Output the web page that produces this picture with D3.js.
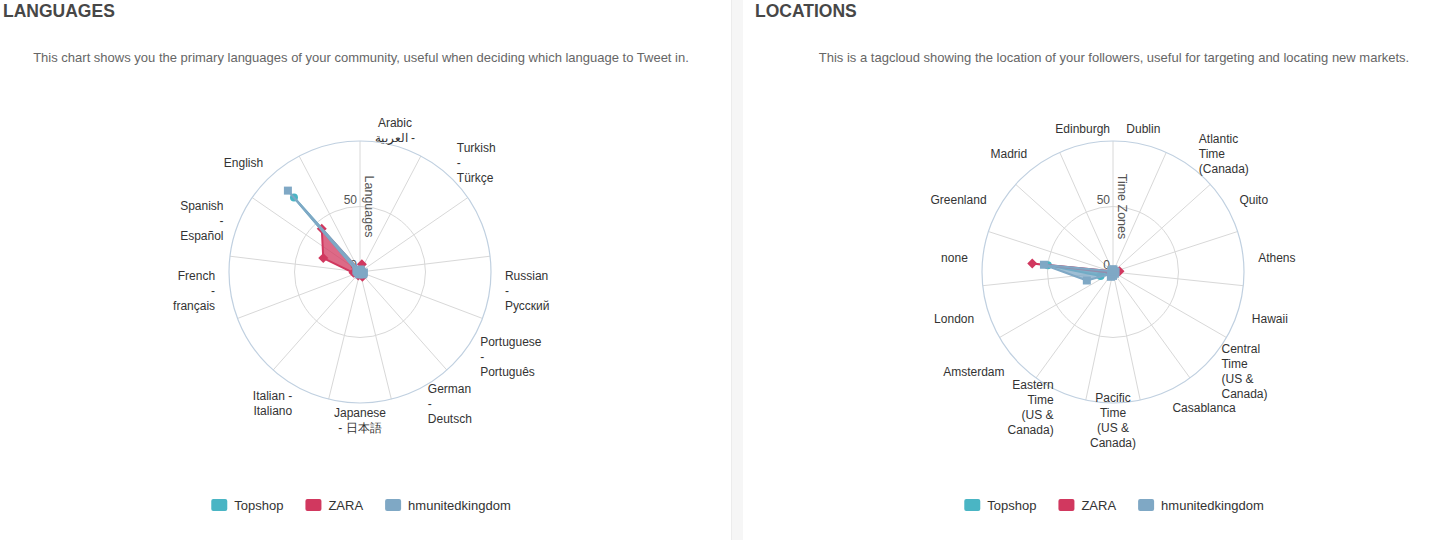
<!DOCTYPE html>
<html>
<head>
<meta charset="utf-8">
<script src="https://cdn.jsdelivr.net/npm/d3@7"></script>
<style>
  html, body { margin: 0; padding: 0; background: #fff; }
  svg { display: block; font-family: "Liberation Sans", Arial, Helvetica, sans-serif; }
</style>
</head>
<body>
<svg id="chart" width="1448" height="540"></svg>
<script>
// ---------- DATA ----------
const seriesNames = ["Topshop", "ZARA", "hmunitedkingdom"];
const seriesColors = ["#4ab5c4", "#d1385f", "#7fa8c5"];

const langCategories = ["Arabic\nالعربية -", "Turkish\n-\nTürkçe", "", "Russian\n-\nРусский",
  "Portuguese\n-\nPortuguês", "German\n-\nDeutsch", "Japanese\n- 日本語", "Italian -\nItaliano", "",
  "French\n-\nfrançais", "Spanish\n-\nEspañol", "English", ""];
const topshopLang = [1, 0.5, 0.5, 1, 1, 0.5, 0.5, 1, 0.5, 1, 3, 76, 0.5];
const zaraLang    = [6, 2, 1, 1, 2, 4, 2, 3, 1, 5, 30, 44, 1];
const hmLang      = [2, 1, 1, 3, 3, 2, 1, 2, 1, 2, 3, 83, 1];

const locCategories = ["Dublin", "Atlantic\nTime\n(Canada)", "Quito", "Athens", "Hawaii",
  "Central\nTime\n(US &\nCanada)", "Casablanca", "Pacific\nTime\n(US &\nCanada)",
  "Eastern\nTime\n(US &\nCanada)", "Amsterdam", "London", "none", "Greenland", "Madrid", "Edinburgh"];
const topshopLoc = [1, 0.5, 0.5, 1, 0.5, 1, 0.5, 2, 3, 1, 10, 50, 0.5, 1, 1];
const zaraLoc    = [1, 0.5, 0.5, 5, 0.5, 1, 0.5, 1, 1, 1, 2, 62, 1, 1, 1];
const hmLoc      = [2, 1, 1, 2, 1, 2, 1, 3, 4, 2, 21, 53, 1, 2, 2];

const radialTicks = [0, 50, 100];

// ---------- DRAW ----------
const svg = d3.select("#chart");

// panel divider
svg.append("rect").attr("x", 731).attr("y", 0).attr("width", 12).attr("height", 540).attr("fill", "#f6f6f6");
svg.append("line").attr("x1", 731.5).attr("x2", 731.5).attr("y1", 0).attr("y2", 540).attr("stroke", "#ececec");

const diamond = {
  draw(ctx, size) {
    const r = Math.sqrt(size) / 2;
    ctx.moveTo(0, -r); ctx.lineTo(r, 0); ctx.lineTo(0, r); ctx.lineTo(-r, 0); ctx.closePath();
  }
};
const symbols = [d3.symbol(d3.symbolCircle, 50), d3.symbol(diamond, 100), d3.symbol(d3.symbolSquare, 64)];

function panel(opts) {
  const { cx, cy, title, titleX, subtitle, subX, cats, data, axisTitle } = opts;
  svg.append("text").attr("x", titleX).attr("y", 17).attr("font-size", 17.5).attr("font-weight", "bold")
    .attr("fill", "#474747").text(title);
  svg.append("text").attr("x", subX).attr("y", 62).attr("font-size", 13).attr("text-anchor", "middle")
    .attr("fill", "#666").text(subtitle);

  const R = 131;
  const n = cats.length;
  const r = d3.scaleLinear().domain([0, 100]).range([0, R]);
  const a = d3.scaleLinear().domain([0, n]).range([0, 2 * Math.PI]);
  const g = svg.append("g").attr("transform", `translate(${cx},${cy})`);

  // spokes
  d3.range(n).forEach(i => {
    const ang = a(i);
    g.append("line").attr("x1", 0).attr("y1", 0)
      .attr("x2", R * Math.sin(ang)).attr("y2", -R * Math.cos(ang))
      .attr("stroke", "#d8d8d8").attr("stroke-width", 1);
  });
  // grid circles
  radialTicks.filter(t => t > 0 && t < 100).forEach(t => {
    g.append("circle").attr("r", r(t)).attr("fill", "none").attr("stroke", "#d8d8d8");
  });
  g.append("circle").attr("r", r(100)).attr("fill", "none").attr("stroke", "#c0d0e0").attr("stroke-width", 1.2);

  // category labels
  cats.forEach((c, i) => {
    if (!c) return;
    const ang = a(i + 0.5);
    const deg = ang * 180 / Math.PI;
    const dist = R + 15;
    const x = dist * Math.sin(ang);
    let y = -dist * Math.cos(ang) + (1 - Math.cos(ang)) * 1.2;
    const anchor = (deg > 20 && deg < 160) ? "start" : (deg > 200 && deg < 340) ? "end" : "middle";
    const lines = c.split("\n");
    const lh = 15;
    const t = g.append("text").attr("font-size", 12).attr("fill", "#333").attr("text-anchor", anchor);
    lines.forEach((ln, k) => {
      t.append("tspan").attr("x", x).attr("y", y - (lines.length - 1) * lh / 2 + k * lh + 4).text(ln);
    });
  });

  // radial axis labels
  radialTicks.filter(t => t < 100).forEach(t => {
    g.append("text").attr("x", -3).attr("y", -r(t) - 3).attr("text-anchor", "end")
      .attr("font-size", 12).attr("fill", "#555").text(t);
  });
  g.append("text").attr("transform", `translate(5,${-R / 2}) rotate(90)`).attr("text-anchor", "middle")
    .attr("font-size", 12.5).attr("fill", "#555").text(axisTitle);

  // series
  const line = d3.lineRadial().angle((d, i) => a(i + 0.5)).radius(d => r(d)).curve(d3.curveLinearClosed);
  data.forEach((vals, s) => {
    const sg = g.append("g");
    sg.append("path").attr("d", line(vals)).attr("fill", seriesColors[s]).attr("fill-opacity", 0.75)
      .attr("stroke", seriesColors[s]).attr("stroke-width", 2).attr("stroke-linejoin", "round");
    vals.forEach((v, i) => {
      const ang = a(i + 0.5);
      sg.append("path").attr("d", symbols[s]())
        .attr("transform", `translate(${r(v) * Math.sin(ang)},${-r(v) * Math.cos(ang)})`)
        .attr("fill", seriesColors[s]);
    });
  });

  // legend
  const lg = svg.append("g");
  let x = 0;
  seriesNames.forEach((nm, s) => {
    lg.append("rect").attr("x", x).attr("y", 499).attr("width", 16).attr("height", 12).attr("rx", 2)
      .attr("fill", seriesColors[s]);
    const tx = lg.append("text").attr("x", x + 23).attr("y", 510).attr("font-size", 13).attr("fill", "#333").text(nm);
    x += 23 + tx.node().getComputedTextLength() + 22;
  });
  const w = x - 22;
  lg.attr("transform", `translate(${cx + 1 - w / 2},0)`);
}

panel({
  cx: 360, cy: 272, title: "LANGUAGES", titleX: 3, subX: 361,
  subtitle: "This chart shows you the primary languages of your community, useful when deciding which language to Tweet in.",
  cats: langCategories, data: [topshopLang, zaraLang, hmLang], axisTitle: "Languages"
});
panel({
  cx: 1113, cy: 272, title: "LOCATIONS", titleX: 755, subX: 1114,
  subtitle: "This is a tagcloud showing the location of your followers, useful for targeting and locating new markets.",
  cats: locCategories, data: [topshopLoc, zaraLoc, hmLoc], axisTitle: "Time Zones"
});
</script>
</body>
</html>
